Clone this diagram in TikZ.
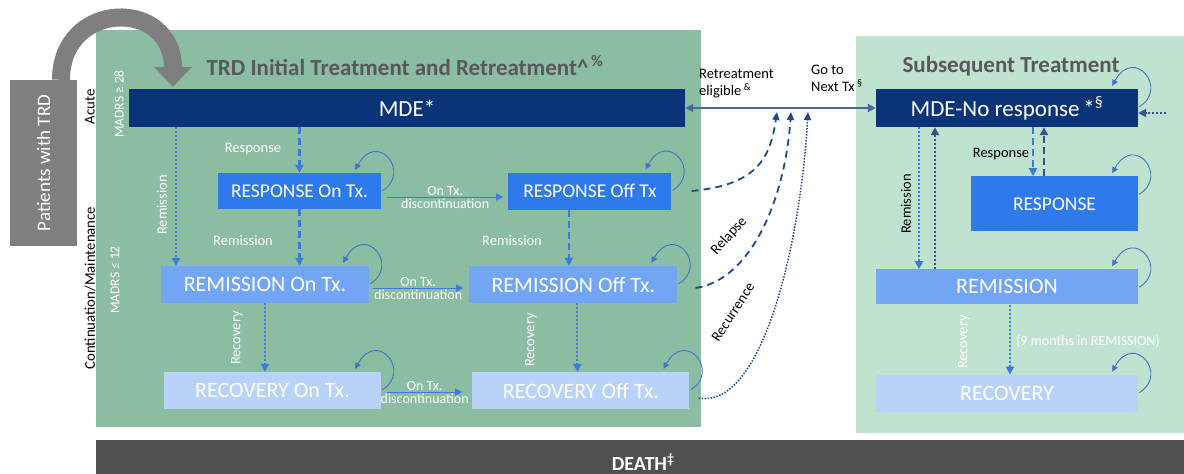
\documentclass[tikz,border=0pt]{standalone}
\usepackage{fontspec}
\setmainfont{Carlito}
\usetikzlibrary{arrows.meta, positioning}

\definecolor{trdgreen}{HTML}{8BBDA3}
\definecolor{subgreen}{HTML}{C0E3CF}
\definecolor{mdenavy}{HTML}{0B3478}
\definecolor{respblue}{HTML}{2E7AEA}
\definecolor{remblue}{HTML}{73A5F5}
\definecolor{recblue}{HTML}{B8D2F8}
\definecolor{patgray}{HTML}{7F7F7F}
\definecolor{deathgray}{HTML}{505050}
\definecolor{titlegray}{HTML}{595959}
\definecolor{flowblue}{HTML}{3A7BDB}
\definecolor{backnavy}{HTML}{34558A}
\definecolor{linkslate}{HTML}{4A6A9C}
\definecolor{curvenavy}{HTML}{1F4A86}
\definecolor{loopblue}{HTML}{4472C4}

\tikzset{
  statebox/.style={fill=#1, text=white, inner sep=0pt},
  mdebox/.style={statebox=mdenavy, font=\fontsize{23}{25}\selectfont},
  respbox/.style={statebox=respblue, font=\fontsize{19.5}{21}\selectfont},
  rembox/.style={statebox=remblue, font=\fontsize{22}{24}\selectfont},
  recbox/.style={statebox=recblue, font=\fontsize{22}{24}\selectfont},
  paneltitle/.style={text=titlegray, font=\bfseries\fontsize{23}{25}\selectfont},
  lbl/.style={text=white, inner sep=1pt, font=\fontsize{14.5}{16}\selectfont},
  smalllbl/.style={text=white, inner sep=1pt, font=\fontsize{14}{15}\selectfont},
  sidelbl/.style={rotate=90, inner sep=0pt, font=\fontsize{14.8}{16}\selectfont},
  madrs/.style={rotate=90, text=white, inner sep=0pt, font=\fontsize{13.5}{15}\selectfont},
  dotflow/.style={flowblue, line width=2pt, dash pattern=on 2pt off 2pt, -{Triangle[length=8pt,width=8pt]}},
  dashflow/.style={flowblue, line width=2.2pt, dash pattern=on 7pt off 4pt, -{Triangle[length=8pt,width=8pt]}},
  dotback/.style={dotflow, backnavy},
  dashback/.style={dashflow, backnavy},
  hop/.style={flowblue, line width=1pt, -{Triangle[length=7pt,width=7pt]}},
  selfloop/.style={loopblue, line width=0.9pt, -{Triangle[length=6pt,width=6pt]}},
  backcurve/.style={curvenavy, line width=1.8pt, -{Triangle[length=8pt,width=7pt]}},
}

\begin{document}
\begin{tikzpicture}[x=1pt, y=-1pt]
\useasboundingbox (0,0) rectangle (1184,474);

% Panels
\fill[trdgreen] (96,30) rectangle (701,427);
\fill[subgreen] (856,36) rectangle (1190,433);
\node[fill=deathgray, text=white, font=\bfseries\fontsize{20}{22}\selectfont,
  minimum width=1094pt, minimum height=44pt, anchor=north west] (death) at (96,440) {DEATH\textsuperscript{‡}};

% Titles and side labels
\node[paneltitle] (trdtitle) at (405,66) {TRD Initial Treatment and Retreatment\textasciicircum\textsuperscript{\,\%}};
\node[paneltitle] (subtitle) at (1011,66) {Subsequent Treatment};
\node[sidelbl] (acute) at (90,107) {Acute};
\node[sidelbl] (contmaint) at (90,288) {Continuation/Maintenance};
\node[madrs] (madrshi) at (119,104) {MADRS ≥ 28};
\node[madrs] (madrslo) at (115,280) {MADRS ≤ 12};

% Initial treatment states
\node[mdebox, minimum width=556pt, minimum height=38pt] (mde) at (407,108) {MDE*};
\node[respbox, minimum width=163pt, minimum height=36pt] (respon) at (299.5,191) {RESPONSE On Tx.};
\node[respbox, minimum width=163pt, minimum height=37pt, right=127pt of respon] (respoff) {RESPONSE Off Tx};
\node[rembox, minimum width=208pt, minimum height=37pt] (remon) at (265,284.5) {REMISSION On Tx.};
\node[rembox, minimum width=208pt, minimum height=37pt, right=100pt of remon] (remoff) {REMISSION Off Tx.};
\node[recbox, minimum width=217pt, minimum height=37pt] (recon) at (272.5,390.5) {RECOVERY On Tx.};
\node[recbox, minimum width=217pt, minimum height=37pt, right=91pt of recon] (recoff) {RECOVERY Off Tx.};

% Subsequent treatment states
\node[mdebox, minimum width=262pt, minimum height=38pt] (mdenr) at (1007,108) {MDE-No response\,*\textsuperscript{§}};
\node[respbox, minimum width=167pt, minimum height=55pt, anchor=north east] (sresp) at ([yshift=-49pt]mdenr.south east) {RESPONSE};
\node[rembox, minimum width=262pt, minimum height=35pt, below=142pt of mdenr] (srem) {REMISSION};
\node[recbox, minimum width=262pt, minimum height=37pt, below=70pt of srem] (srec) {RECOVERY};

% Patients entering
\node[fill=patgray, text=white, minimum width=166pt, minimum height=67pt, rotate=90, inner sep=0pt,
  font=\fontsize{19}{21}\selectfont] (patients) at (43.5,163) {Patients with TRD};
\coordinate (entrycol) at (173,0);
\draw[patgray, line width=18pt, -{Triangle[length=20pt,width=37pt]}]
  ([xshift=17.5pt]patients.east) .. controls +(0,-80) and +(0,-89) .. ([yshift=2pt]mde.north -| entrycol);

% Link between the two treatment blocks
\draw[linkslate, line width=2.5pt, {Triangle[length=8pt,width=8pt]}-{Triangle[length=8pt,width=8pt]}] (mde.east) -- (mdenr.west);
\node[anchor=north west, align=left, inner sep=0pt, font=\fontsize{14.5}{17}\selectfont] (retlbl) at (699,69) {Retreatment\\eligible\,\textsuperscript{\&}};
\node[anchor=north west, align=left, inner sep=0pt, font=\fontsize{14.5}{17}\selectfont] (nextlbl) at (811,65) {Go to\\Next Tx\,\textsuperscript{§}};

% Flows in the initial block
\coordinate (remcol) at (176,0);
\draw[dotflow] (mde.south -| remcol) -- (remon.north -| remcol);
\draw[dashflow] (mde.south -| respon.north) -- (respon.north);
\draw[dashflow] (respon.south) -- (respon.south |- remon.north);
\draw[dashflow] ([xshift=-21pt]respoff.south) -- ([xshift=-21pt]respoff.south |- remoff.north);
\draw[dotflow] (remon.south) -- (remon.south |- recon.north);
\draw[dotflow] ([xshift=4pt]remoff.south) -- ([xshift=4pt]remoff.south |- recoff.north);
\node[lbl] (lblresp) at (253,149) {Response};
\node[lbl, rotate=90] (lblrem) at (162,205) {Remission};
\node[lbl] (lblremon) at (243,241) {Remission};
\node[lbl] (lblremoff) at (512,241) {Remission};
\node[lbl, rotate=90] (lblrecon) at (237,338) {Recovery};
\node[lbl, rotate=90] (lblrecoff) at (531,340) {Recovery};

\draw[hop] ([shift={(6,6)}]respon.east) -- ([shift={(-5,6)}]respoff.west)
  node[midway, above, smalllbl] (disc1a) {On Tx.} node[midway, below, smalllbl] (disc1b) {discontinuation};
\draw[hop] ([shift={(4,3.5)}]remon.east) -- ([shift={(-6,3.5)}]remoff.west)
  node[midway, above, smalllbl] (disc2a) {On Tx.} node[midway, below, smalllbl] (disc2b) {discontinuation};
\draw[hop] ([shift={(6,1.5)}]recon.east) -- ([shift={(-10,1.5)}]recoff.west)
  node[midway, above, smalllbl] (disc3a) {On Tx.} node[midway, below, smalllbl] (disc3b) {discontinuation};

% Flows in the subsequent block
\draw[dotflow] ([xshift=-88pt]mdenr.south) -- ([xshift=-88pt]mdenr.south |- srem.north);
\draw[dotback] ([xshift=-72pt]srem.north) -- ([xshift=-72pt]srem.north |- mdenr.south);
\draw[dashflow] ([xshift=26pt]mdenr.south) -- ([xshift=26pt]mdenr.south |- sresp.north);
\draw[dashback] ([xshift=37pt]mdenr.south |- sresp.north) -- ([xshift=37pt]mdenr.south);
\draw[dotflow] ([xshift=3pt]srem.south) -- ([xshift=3pt]srem.south |- srec.north);
\coordinate (extin) at (1166,113);
\draw[dotback] (extin) -- (extin -| mdenr.east);
\node[lbl, text=black, rotate=90] (lblsrem) at (906,204) {Remission};
\node[lbl, text=black] (lblsresp) at (1001,154) {Response};
\node[lbl, rotate=90] (lblsrec) at (964,342) {Recovery};
\node[smalllbl] (ninemo) at (1088,341) {(9 months in REMISSION)};

% Relapse and recurrence back to the link
\coordinate (ret1) at (777,112);
\coordinate (ret2) at (791,112);
\coordinate (ret3) at (808,112);
\draw[backcurve, dash pattern=on 7pt off 5pt] ([xshift=20pt]respoff.east) .. controls +(64,-6) and +(-7,48) .. (ret1);
\draw[backcurve, dash pattern=on 7pt off 5pt] ([shift={(18,3.5)}]remoff.east) .. controls +(55,-8) and +(-6,88) .. (ret2);
\draw[backcurve, line width=1.5pt, dash pattern=on 1.5pt off 1.5pt] ([shift={(9,7.5)}]recoff.east) .. controls +(62,12) and +(-8,138) .. (ret3);
\node[font=\fontsize{14.5}{16}\selectfont, rotate=48] (relapse) at (729,236) {Relapse};
\node[font=\fontsize{14.5}{16}\selectfont, rotate=57] (recur) at (733,312) {Recurrence};

% Self loops
\foreach \n in {respon,respoff,remon,remoff,recon,recoff,mdenr,sresp,srem,srec}
  \draw[selfloop] ([shift={(1,18)}]\n.north east) .. controls +(30,-18) and +(22,-40) .. ([shift={(-26,-3)}]\n.north east);
\end{tikzpicture}
\end{document}
